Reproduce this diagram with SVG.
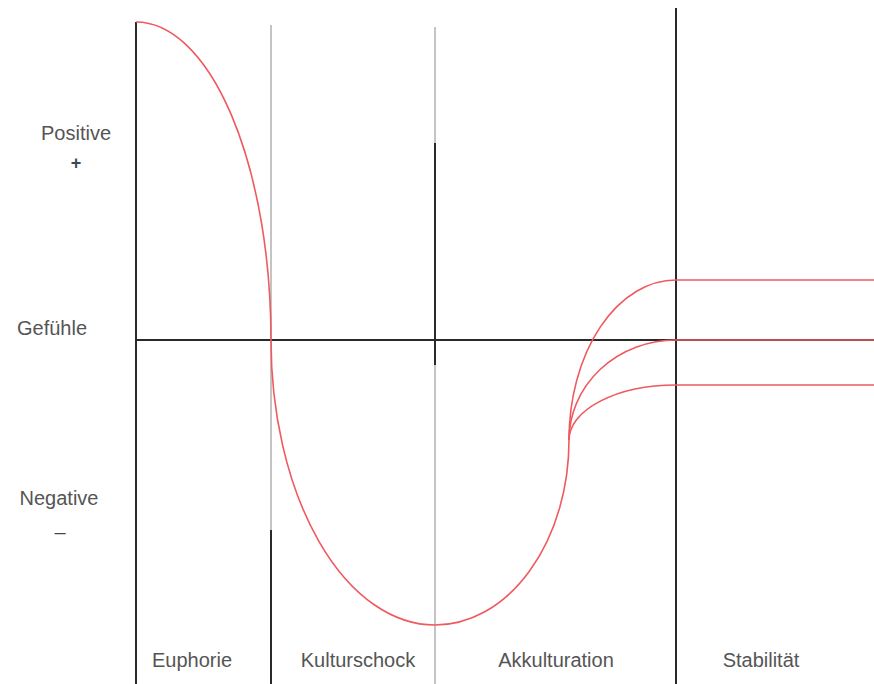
<svg xmlns="http://www.w3.org/2000/svg" width="874" height="684" viewBox="0 0 874 684">
<style>
.lbl{font-family:"Liberation Sans",Arial,sans-serif;font-size:20px;fill:#555;}
.axis{stroke:#2a2a2a;stroke-width:2;fill:none;}
.grey{stroke:#c4c4c4;stroke-width:2;fill:none;}
.curve{stroke:#ee5a5f;stroke-width:1.6;fill:none;}
</style>
<rect width="874" height="684" fill="#fff"/>
<g id="grid">
<line class="axis" x1="136" y1="22" x2="136" y2="684"/>
<line class="grey" x1="271" y1="25" x2="271" y2="530"/>
<line class="axis" x1="271" y1="530" x2="271" y2="684"/>
<line class="grey" x1="435" y1="27" x2="435" y2="143"/>
<line class="axis" x1="435" y1="143" x2="435" y2="365"/>
<line class="grey" x1="435" y1="365" x2="435" y2="684"/>
<line class="axis" x1="676" y1="8" x2="676" y2="684"/>
<line class="axis" x1="136" y1="340" x2="874" y2="340"/>
</g>
<g id="connectors">
<path class="curve" d="M136 22 A135 318 0 0 1 271 340 A164 285 0 0 0 435 625 A134 185 0 0 0 569 440"/>
<path class="curve" d="M569 440 A107 160 0 0 1 676 280 H874"/>
<path class="curve" d="M569 440 A107 100 0 0 1 676 340 H874"/>
<path class="curve" d="M569 440 A107 55 0 0 1 676 385 H874"/>
</g>
<g id="y-labels">
<text class="lbl" x="76" y="140" text-anchor="middle">Positive</text>
<text class="lbl" x="76" y="169" text-anchor="middle" style="font-size:18px;font-weight:bold;fill:#3a4a5a">+</text>
<text class="lbl" x="52" y="335" text-anchor="middle">Gefühle</text>
<text class="lbl" x="59" y="505" text-anchor="middle">Negative</text>
<text class="lbl" x="60" y="539" text-anchor="middle" style="fill:#3a4a5a">–</text>
</g>
<g id="phase-euphorie"><text class="lbl" x="192" y="667" text-anchor="middle">Euphorie</text></g>
<g id="phase-kulturschock"><text class="lbl" x="358" y="667" text-anchor="middle">Kulturschock</text></g>
<g id="phase-akkulturation"><text class="lbl" x="556" y="667" text-anchor="middle">Akkulturation</text></g>
<g id="phase-stabilitaet"><text class="lbl" x="761" y="667" text-anchor="middle">Stabilität</text></g>
</svg>
